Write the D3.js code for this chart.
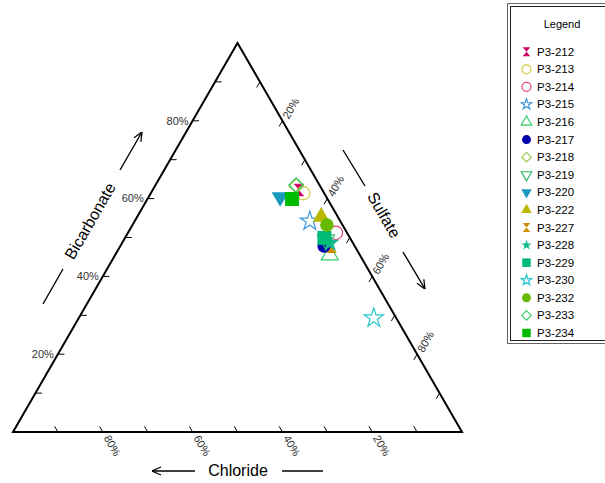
<!DOCTYPE html>
<html><head><meta charset="utf-8">
<script src="https://cdn.jsdelivr.net/npm/d3@7"></script>
<style>body{margin:0;background:#fff}svg{display:block}text{font-family:"Liberation Sans",Arial,sans-serif}</style>
</head><body>
<svg id="chart" width="605" height="483"></svg>
<script>
// ---- data (percent) ----
const samples     = ["P3-212","P3-213","P3-214","P3-215","P3-216","P3-217","P3-218","P3-219","P3-220","P3-222","P3-227","P3-228","P3-229","P3-230","P3-232","P3-233","P3-234"];
const bicarbonate = [62.2, 61.4, 51.2, 54.2, 45.5, 47.8, 63.2, 49.4, 60.4, 55.3, 47.6, 48.6, 49.9, 29.3, 53.2, 63.5, 59.9];
const sulfate     = [32.6, 33.9, 46.3, 39.0, 47.8, 45.4, 31.5, 45.0, 29.3, 41.0, 47.2, 46.3, 44.4, 65.7, 43.3, 31.3, 32.2];
const chloride    = [5.2, 4.7, 2.5, 6.8, 6.7, 6.8, 5.3, 5.6, 10.3, 3.7, 5.2, 5.1, 5.7, 5.0, 3.5, 5.2, 7.9];
const colors      = ["#cc0066","#d2c63c","#e0457a","#3a96dc","#33cc66","#0000aa","#9acc48","#33bb66","#1a98bb","#bdb800","#cc9000","#12b894","#00bb77","#26c8d0","#66bb00","#3ccc66","#00bb00"];
const shapes      = ["hourglass","circle","circle","star","triangle","circle","diamond","triangleDown","triangleDown","triangle","hourglass","star","square","star","circle","diamond","square"];
const filled      = [true,false,false,false,false,true,false,false,true,true,true,true,true,false,true,false,true];
const tickValues  = [10,20,30,40,50,60,70,80,90];
const labeledTicks= [20,40,60,80];

const svg = d3.select("#chart");
const xs = d3.scaleLinear().domain([0,100]).range([13,462]);
const ys = d3.scaleLinear().domain([0,100]).range([432,43]);
const pt = (b,s) => [xs(s + b/2), ys(b)];

// arrow marker
svg.append("defs").append("marker").attr("id","arr").attr("viewBox","0 0 10 10")
  .attr("refX",10).attr("refY",5).attr("markerWidth",10).attr("markerHeight",10)
  .attr("markerUnits","userSpaceOnUse").attr("orient","auto")
  .append("path").attr("d","M1,1 L10,5 L1,9").attr("fill","none").attr("stroke","#000").attr("stroke-width",1.3);

// triangle
const tri = [pt(0,0), pt(0,100), pt(100,0)];
svg.append("path").attr("d","M"+tri.map(p=>p.join(",")).join("L")+"Z")
  .attr("fill","none").attr("stroke","#000").attr("stroke-width",2).attr("stroke-linejoin","miter");

const tickG = svg.append("g").attr("stroke","#000").attr("stroke-width",1);
const labG = svg.append("g").attr("font-size",11).attr("fill","#333");
const L = 6.5;
tickValues.forEach(v => {
  // bicarbonate (left edge)
  let p = pt(v,0);
  tickG.append("line").attr("x1",p[0]).attr("y1",p[1]).attr("x2",p[0]+L).attr("y2",p[1]);
  if (labeledTicks.includes(v)) labG.append("text").attr("x",p[0]-4).attr("y",p[1]).attr("dy","0.35em").attr("text-anchor","end").text(v+"%");
  // sulfate (right edge)
  p = pt(100-v, v);
  tickG.append("line").attr("x1",p[0]).attr("y1",p[1]).attr("x2",p[0]-0.5*L).attr("y2",p[1]+0.866*L);
  if (labeledTicks.includes(v)) labG.append("text").attr("transform",`translate(${p[0]+3},${p[1]-3}) rotate(-60)`).attr("dy","0.35em").text(v+"%");
  // chloride (bottom)
  p = pt(0, 100-v);
  tickG.append("line").attr("x1",p[0]).attr("y1",p[1]).attr("x2",p[0]-0.5*L).attr("y2",p[1]-0.866*L);
  if (labeledTicks.includes(v)) labG.append("text").attr("transform",`translate(${p[0]+4},${p[1]+4}) rotate(60)`).attr("dy","0.35em").text(v+"%");
});

// axis titles
const tG = svg.append("g").attr("font-size",16).attr("fill","#000");
tG.append("text").attr("transform","translate(90,221) rotate(-60)").attr("text-anchor","middle").attr("dy","0.35em").text("Bicarbonate");
tG.append("text").attr("transform","translate(384,215) rotate(60)").attr("text-anchor","middle").attr("dy","0.35em").text("Sulfate");
tG.append("text").attr("x",238).attr("y",470).attr("text-anchor","middle").attr("dy","0.35em").text("Chloride");
const aG = svg.append("g").attr("stroke","#000").attr("stroke-width",1.4);
function seg(x1,y1,x2,y2,arrow){const l=aG.append("line").attr("x1",x1).attr("y1",y1).attr("x2",x2).attr("y2",y2); if(arrow) l.attr("marker-end","url(#arr)");}
seg(120,170,142,132,true); seg(43,304,63,269,false);
seg(343,150,365,186,false); seg(403,252,425,289,true);
seg(195,471,152,471,true); seg(282,471,323,471,false);

// symbols
function symPath(shape, s) { // s = nominal diameter
  switch(shape){
    case "circle": return d3.symbol(d3.symbolCircle, Math.PI*s*s/4)();
    case "square": return d3.symbol(d3.symbolSquare, s*s)();
    case "diamond": { const h=s/2; return `M0,${-h}L${h},0L0,${h}L${-h},0Z`; }
    case "triangle": return d3.symbol(d3.symbolTriangle, 0.433*s*s)();
    case "triangleDown": return d3.symbol(d3.symbolTriangle, 0.433*s*s)();
    case "star": return d3.symbol(d3.symbolStar, (s/1.9)*(s/1.9)/0.8908)();
    case "hourglass": { const w=s*0.42, h=s*0.5; return `M${-w},${-h}L${w},${-h}L0,0L${w},${h}L${-w},${h}L0,0Z`; }
  }
}
const sizePlot = {circle:13.5, square:14, diamond:14.5, triangle:17, triangleDown:17, star:19, hourglass:12.5};
const sizeLeg  = {circle:9, square:8.5, diamond:9.5, triangle:10.5, triangleDown:10.5, star:10.5, hourglass:9};
function drawSym(g, i, sizes, x, y){
  const sh = shapes[i];
  g.append("path").attr("d", symPath(sh, sizes[sh]))
    .attr("transform", `translate(${x},${y})` + (sh==="triangleDown" ? " rotate(180)" : ""))
    .attr("fill", filled[i] ? colors[i] : "none")
    .attr("stroke", filled[i] ? "none" : colors[i])
    .attr("stroke-width", 1.2);
}
const pG = svg.append("g");
samples.forEach((name,i) => {
  const p = pt(bicarbonate[i], sulfate[i]);
  drawSym(pG, i, sizePlot, p[0], p[1]);
});

// legend
const lg = svg.append("g");
lg.append("rect").attr("x",507.5).attr("y",3.5).attr("width",120).attr("height",340).attr("fill","#fff").attr("stroke","#666").attr("stroke-width",1);
lg.append("rect").attr("x",510.5).attr("y",6.5).attr("width",120).attr("height",334).attr("fill","none").attr("stroke","#222").attr("stroke-width",1);
lg.append("text").attr("x",562).attr("y",28).attr("text-anchor","middle").attr("font-size",11).attr("fill","#000").text("Legend");
const ly = d3.scaleLinear().domain([0, samples.length-1]).range([51.7, 333]);
samples.forEach((name,i) => {
  drawSym(lg, i, sizeLeg, 526.5, ly(i));
  lg.append("text").attr("x",537).attr("y",ly(i)).attr("dy","0.35em").attr("font-size",11.5).attr("fill","#000").text(name);
});
</script>
</body></html>
